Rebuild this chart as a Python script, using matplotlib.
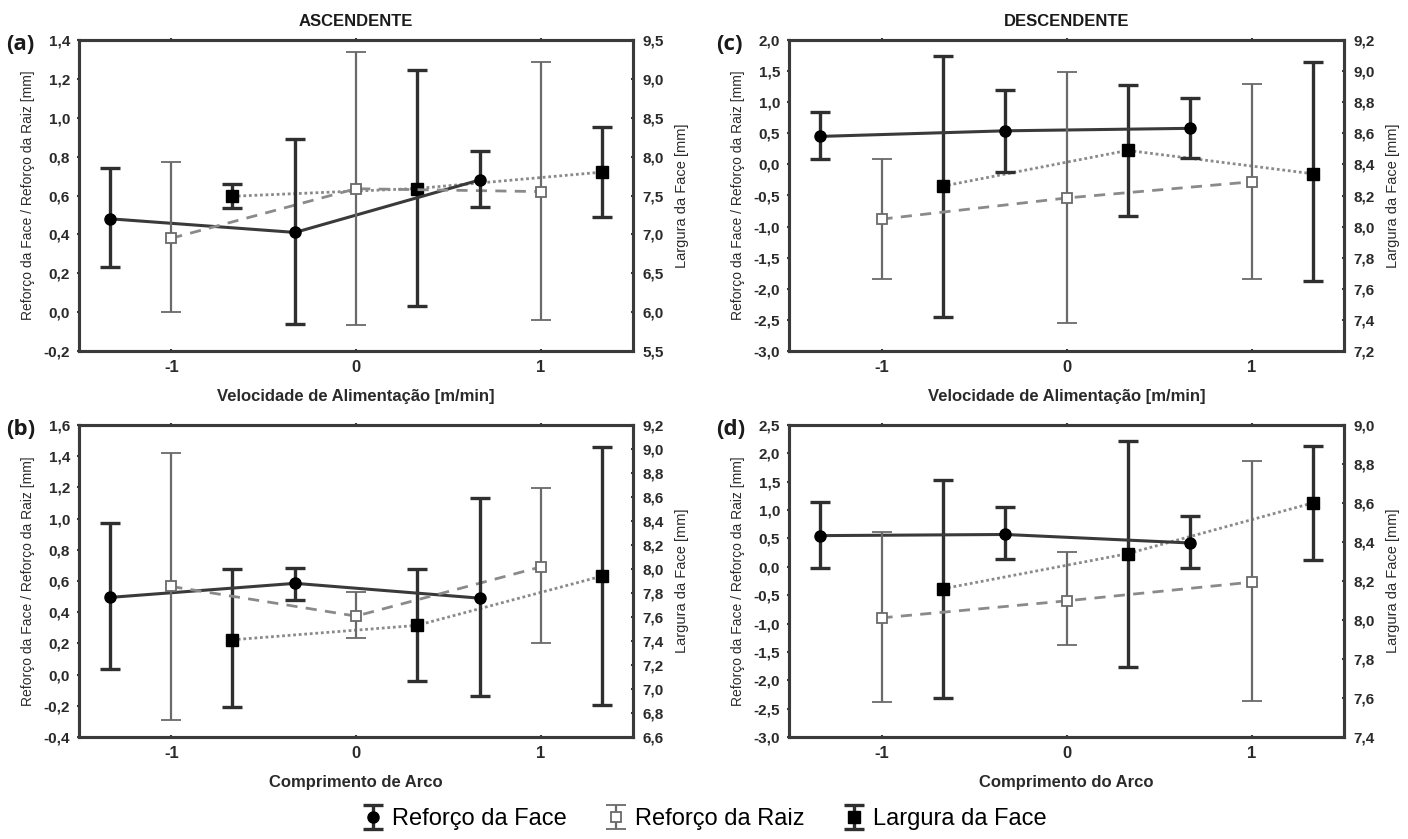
import matplotlib
matplotlib.use("Agg")
import matplotlib.pyplot as plt
from matplotlib.ticker import FuncFormatter, MultipleLocator

plt.rcParams['font.family'] = ['Liberation Sans', 'DejaVu Sans']

# x positions of each factor level (coded units)
x_face = [-1.33, -0.33, 0.67]
x_raiz = [-1.0, 0.0, 1.0]
x_larg = [-0.67, 0.33, 1.33]

# Panel (a) ASCENDENTE - Velocidade de Alimentacao
a_face = [0.48, 0.41, 0.68]
a_face_lo = [0.23, -0.06, 0.54]
a_face_hi = [0.74, 0.89, 0.83]
a_raiz = [0.38, 0.635, 0.62]
a_raiz_lo = [0.0, -0.065, -0.04]
a_raiz_hi = [0.77, 1.34, 1.285]
a_larg = [7.49, 7.59, 7.80]
a_larg_lo = [7.34, 6.075, 7.225]
a_larg_hi = [7.65, 9.11, 8.375]

# Panel (b) ASCENDENTE - Comprimento de Arco
b_face = [0.495, 0.585, 0.49]
b_face_lo = [0.035, 0.48, -0.14]
b_face_hi = [0.97, 0.685, 1.13]
b_raiz = [0.565, 0.375, 0.69]
b_raiz_lo = [-0.29, 0.235, 0.20]
b_raiz_hi = [1.42, 0.53, 1.195]
b_larg = [7.41, 7.53, 7.94]
b_larg_lo = [6.85, 7.07, 6.87]
b_larg_hi = [8.00, 8.00, 9.02]

# Panel (c) DESCENDENTE - Velocidade de Alimentacao
c_face = [0.45, 0.54, 0.58]
c_face_lo = [0.08, -0.12, 0.11]
c_face_hi = [0.85, 1.20, 1.06]
c_raiz = [-0.88, -0.54, -0.28]
c_raiz_lo = [-1.85, -2.55, -1.85]
c_raiz_hi = [0.08, 1.49, 1.30]
c_larg = [8.26, 8.49, 8.34]
c_larg_lo = [7.42, 8.07, 7.65]
c_larg_hi = [9.10, 8.91, 9.06]

# Panel (d) DESCENDENTE - Comprimento do Arco
d_face = [0.55, 0.57, 0.42]
d_face_lo = [-0.02, 0.13, -0.02]
d_face_hi = [1.15, 1.05, 0.89]
d_raiz = [-0.90, -0.60, -0.27]
d_raiz_lo = [-2.38, -1.38, -2.37]
d_raiz_hi = [0.62, 0.27, 1.86]
d_larg = [8.16, 8.34, 8.60]
d_larg_lo = [7.60, 7.76, 8.31]
d_larg_hi = [8.72, 8.92, 8.89]

x_ticks = [-1, 0, 1]
x_ticklabels = ['-1', '0', '1']
legend_labels = ['Reforço da Face', 'Reforço da Raiz', 'Largura da Face']

fig = plt.figure(figsize=(14.08, 8.39), dpi=100)

W = 1408.0
H = 839.0
def rect(l, r, t, b):
    return [l / W, 1 - b / H, (r - l) / W, (b - t) / H]

comma = FuncFormatter(lambda v, p: ('%.1f' % v).replace('.', ','))

DARK = '#2f2f2f'
MID = '#6a6a6a'
LIGHT = '#8a8a8a'

def panel(r, face, flo, fhi, raiz, rlo, rhi, larg, llo, lhi,
          ylim, ystep, y2lim, y2step, xlabel, letter, title=None):
    ax = fig.add_axes(r)
    ax2 = ax.twinx()
    ax.set_zorder(ax2.get_zorder() + 1)
    ax.patch.set_visible(False)

    # connecting lines
    ax.plot(x_face, face, color='#3a3a3a', lw=2.2, ls='-', zorder=2)
    ax.plot(x_raiz, raiz, color=LIGHT, lw=2.0, ls=(0, (4, 3)), zorder=2)
    ax2.plot(x_larg, larg, color=LIGHT, lw=2.0, ls=(0, (1, 1)), zorder=2)

    ef = ax.errorbar(x_face, face,
                     yerr=[[f - lo for f, lo in zip(face, flo)],
                           [hi - f for f, hi in zip(face, fhi)]],
                     fmt='o', ms=8, mfc='black', mec='black', ecolor=DARK,
                     elinewidth=2.4, capsize=7, capthick=2.4, zorder=4)
    er = ax.errorbar(x_raiz, raiz,
                     yerr=[[v - lo for v, lo in zip(raiz, rlo)],
                           [hi - v for v, hi in zip(raiz, rhi)]],
                     fmt='s', ms=7.5, mfc='white', mec=MID, mew=1.3,
                     ecolor=MID, elinewidth=1.6, capsize=7, capthick=1.6,
                     zorder=5)
    el = ax2.errorbar(x_larg, larg,
                      yerr=[[v - lo for v, lo in zip(larg, llo)],
                            [hi - v for v, hi in zip(larg, lhi)]],
                      fmt='s', ms=8.5, mfc='black', mec='black', ecolor=DARK,
                      elinewidth=2.4, capsize=7, capthick=2.4, zorder=4)

    ax.set_xlim(-1.5, 1.5)
    ax.set_ylim(*ylim)
    ax2.set_ylim(*y2lim)
    ax.set_xticks(x_ticks)
    ax.set_xticklabels(x_ticklabels)
    ax.yaxis.set_major_locator(MultipleLocator(ystep))
    ax2.yaxis.set_major_locator(MultipleLocator(y2step))
    ax.yaxis.set_major_formatter(comma)
    ax2.yaxis.set_major_formatter(comma)

    for a in (ax, ax2):
        for s in a.spines.values():
            s.set_linewidth(2.2)
            s.set_color('#3a3a3a')
        a.tick_params(length=3, width=1.5, color='#3a3a3a', direction='inout',
                      labelsize=11, pad=5)
        for lbl in a.get_yticklabels() + a.get_xticklabels():
            lbl.set_fontweight('bold')
            lbl.set_color('#2a2a2a')
    ax.tick_params(axis='x', top=True, labelsize=12)

    ax.set_xlabel(xlabel, fontsize=12, fontweight='bold', color='#2a2a2a',
                  labelpad=10)
    ax.set_ylabel('Reforço da Face / Reforço da Raiz [mm]', fontsize=10,
                  color='#2a2a2a', labelpad=6)
    ax2.set_ylabel('Largura da Face [mm]', fontsize=10.5, color='#2a2a2a',
                   labelpad=8)
    ax.text(-0.132, 0.985, letter, transform=ax.transAxes, fontsize=16,
            fontweight='bold', family=['Open Sans', 'DejaVu Sans'],
            ha='left', va='center', color='#1a1a1a')
    if title:
        ax.set_title(title, fontsize=12, fontweight='bold',
                     color='#1a1a1a', pad=10)
    return ef, er, el

handles = panel(rect(79, 633, 40, 351), a_face, a_face_lo, a_face_hi,
                a_raiz, a_raiz_lo, a_raiz_hi, a_larg, a_larg_lo, a_larg_hi,
                (-0.2, 1.4), 0.2, (5.5, 9.5), 0.5,
                'Velocidade de Alimentação [m/min]', '(a)', 'ASCENDENTE')
panel(rect(79, 633, 425, 737), b_face, b_face_lo, b_face_hi,
      b_raiz, b_raiz_lo, b_raiz_hi, b_larg, b_larg_lo, b_larg_hi,
      (-0.4, 1.6), 0.2, (6.6, 9.2), 0.2,
      'Comprimento de Arco', '(b)')
panel(rect(789, 1344, 40, 351), c_face, c_face_lo, c_face_hi,
      c_raiz, c_raiz_lo, c_raiz_hi, c_larg, c_larg_lo, c_larg_hi,
      (-3.0, 2.0), 0.5, (7.2, 9.2), 0.2,
      'Velocidade de Alimentação [m/min]', '(c)', 'DESCENDENTE')
panel(rect(789, 1344, 425, 737), d_face, d_face_lo, d_face_hi,
      d_raiz, d_raiz_lo, d_raiz_hi, d_larg, d_larg_lo, d_larg_hi,
      (-3.0, 2.5), 0.5, (7.4, 9.0), 0.2,
      'Comprimento do Arco', '(d)')

fig.legend(handles, legend_labels, loc='center', bbox_to_anchor=(0.5, 1 - 819 / H),
           ncol=3, frameon=False, fontsize=17, handlelength=1.0,
           handletextpad=0.3, columnspacing=1.6)

fig.savefig('out.png', dpi=100)
